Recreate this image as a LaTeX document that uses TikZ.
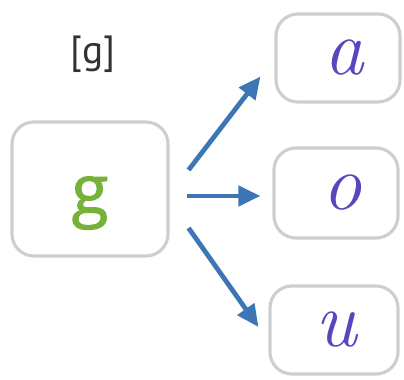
\documentclass[tikz,border=0pt]{standalone}
\usepackage{fontspec}
\usepackage{xcolor}
\usepackage{tikz}
\usetikzlibrary{arrows.meta}
\newfontfamily\greenfont[FakeBold=1.6]{Open Sans}
\newfontfamily\ipafont{PT Sans}
\definecolor{boxgray}{RGB}{205,205,212}
\definecolor{arrowblue}{RGB}{60,118,180}
\definecolor{letgreen}{RGB}{118,178,58}
\definecolor{penblue}{RGB}{88,70,190}
\tikzset{
  lbox/.style={draw=boxgray, line width=2.2pt, rounded corners=0.55cm, fill=white},
  pen/.style={text=penblue, font=\fontsize{56}{56}\selectfont\itshape},
  arr/.style={draw=arrowblue, line width=3.4pt, -{Triangle[length=0.55cm,width=0.5cm]}}
}

\begin{document}
\begin{tikzpicture}[x=0.025cm,y=0.025cm]
            \useasboundingbox (0,0) rectangle (404,380);
            %左边的字母框
            \node[lbox, minimum width=3.9cm, minimum height=3.35cm, text=letgreen,
                  text height=1.4cm, text depth=0.18cm,
                  font=\greenfont\fontsize{48}{48}\selectfont] (G) at (90,191) {g};
            %上方的音标
            \node[font=\ipafont\fontsize{28}{28}\selectfont, text=black!80] (ipa) at (93,326) {[g]};
            %右边三个手写字母框
            \node[lbox, pen, minimum width=3.1cm, minimum height=2.2cm] (A) at (338,322) {\hspace{0.3cm}a};
            \node[lbox, pen, minimum width=3.1cm, minimum height=2.25cm] (O) at (336,187) {\hspace{0.3cm}o};
            \node[lbox, pen, minimum width=3.2cm, minimum height=2.2cm] (U) at (334,50) {\hspace{0.1cm}u};
            %绘制三个箭头
            \draw[arr] ([shift={(19,19)}]G.east) -- ([shift={(-14,27)}]A.south west);
            \draw[arr] ([shift={(17,-7)}]G.east) -- ([shift={(-12,-3)}]O.west);
            \draw[arr] ([shift={(19,-39)}]G.east) -- ([shift={(-10,3)}]U.west);
        \end{tikzpicture}
\end{document}
